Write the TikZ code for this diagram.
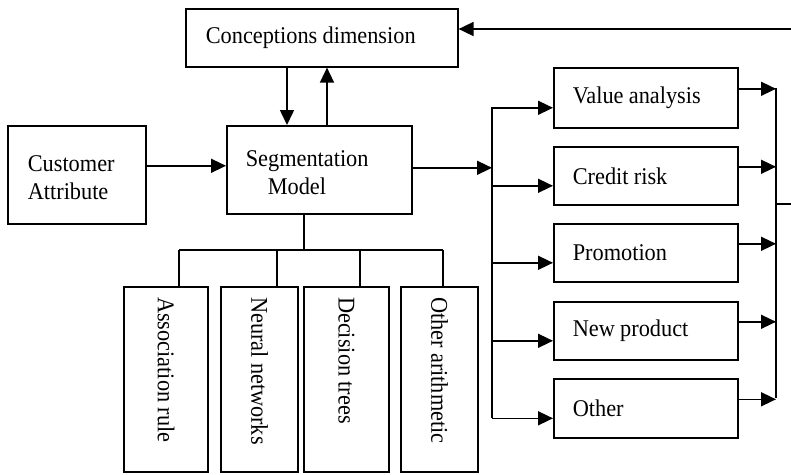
\documentclass[tikz,border=0pt]{standalone}
\usepackage{fontspec}
\setmainfont{Liberation Serif}[FakeStretch=0.93]
\usetikzlibrary{arrows.meta,calc}
\begin{document}
\begin{tikzpicture}[x=1pt,y=-1pt,
  box/.style={draw, line width=1.6pt, inner ysep=0pt, font=\fontsize{24}{28}\selectfont, align=left,
    execute at begin node={\spaceskip=0.22em\relax\xspaceskip=0.22em\relax}},
  ln/.style={line width=1.6pt},
  arr/.style={line width=1.6pt, -{Triangle[length=15pt,width=14pt]}}]
\useasboundingbox (0,0) rectangle (791,474);
% main boxes
\node[box, anchor=north west, minimum width=272, minimum height=58, text width=232, inner xsep=20] (conc) at (185,8) {Conceptions dimension};
\node[box, anchor=north west, minimum width=138, minimum height=98, text width=98, inner xsep=20, text depth=23pt] (cust) at (7,125) {Customer\\Attribute};
\node[box, anchor=north west, minimum width=185, minimum height=88, text width=147, inner xsep=19, text depth=23pt] (seg) at (226,125) {Segmentation\\\hspace*{22pt}Model};
% right boxes
\node[box, anchor=north west, minimum width=184, minimum height=60, text width=146, inner xsep=19] (va) at (553,67) {Value analysis};
\node[box, anchor=north west, minimum width=184, minimum height=58, text width=146, inner xsep=19] (cr) at (553,146) {Credit risk};
\node[box, anchor=north west, minimum width=184, minimum height=58, text width=146, inner xsep=19] (pr) at (553,223) {Promotion};
\node[box, anchor=north west, minimum width=184, minimum height=58, text width=146, inner xsep=19] (np) at (553,301) {New product};
\node[box, anchor=north west, minimum width=184, minimum height=59, text width=146, inner xsep=19] (ot) at (553,378) {Other};
% bottom boxes (rotated)
\node[box, rotate=-90, minimum width=185, minimum height=84, text width=165, inner xsep=10] (b1) at (166,379.5) {Association rule};
\node[box, rotate=-90, minimum width=185, minimum height=77, text width=165, inner xsep=10] (b2) at (259.5,379.5) {Neural networks};
\node[box, rotate=-90, minimum width=185, minimum height=85, text width=165, inner xsep=10] (b3) at (346.5,379.5) {Decision trees};
\node[box, rotate=-90, minimum width=185, minimum height=77, text width=165, inner xsep=10] (b4) at (439.5,379.5) {Other arithmetic};
% conc <-> seg
\coordinate (d1) at (287,0);
\coordinate (u1) at (327,0);
\draw[arr] (d1 |- conc.south) -- (d1 |- seg.north);
\draw[arr] (u1 |- seg.north) -- (u1 |- conc.south);
% cust -> seg
\draw[arr] ([yshift=9pt]cust.east) -- ([yshift=9pt]cust.east -| seg.west);
% seg -> left bus
\coordinate (lbT) at (492,107);
\coordinate (lbB) at (492,418);
\draw[arr] ([yshift=2pt]seg.east) -- ([yshift=2pt]seg.east -| lbT);
\draw[ln] (lbT) -- (lbB);
\foreach \n in {va,cr,pr,np,ot}{
  \draw[arr] ([yshift=-10pt]\n.west -| lbT) -- ([yshift=-10pt]\n.west);
}
% right bus
\coordinate (rbT) at (776,88);
\coordinate (rbB) at (776,398);
\draw[ln] (rbT) -- (rbB);
\foreach \n in {va,cr,pr,np,ot}{
  \draw[arr] ([yshift=9pt]\n.east) -- ([yshift=9pt]\n.east -| rbT);
}
\coordinate (rbM) at (776,204);
\coordinate (rbE) at (791,204);
\draw[ln] (rbM) -- (rbE);
% feedback
\coordinate (fb) at (791,29);
\draw[arr] (fb) -- (fb -| conc.east);
% seg -> bottom boxes
\coordinate (sb) at (304,250);
\draw[ln] (sb |- seg.south) -- (sb);
\coordinate (k1) at (179,250);
\coordinate (k2) at (277,250);
\coordinate (k3) at (360,250);
\coordinate (k4) at (443,250);
\draw[ln] (k1) -- (k4);
\draw[ln] (k1) -- (k1 |- b1.west);
\draw[ln] (k2) -- (k2 |- b2.west);
\draw[ln] (k3) -- (k3 |- b3.west);
\draw[ln] (k4) -- (k4 |- b4.west);
\end{tikzpicture}
\end{document}
